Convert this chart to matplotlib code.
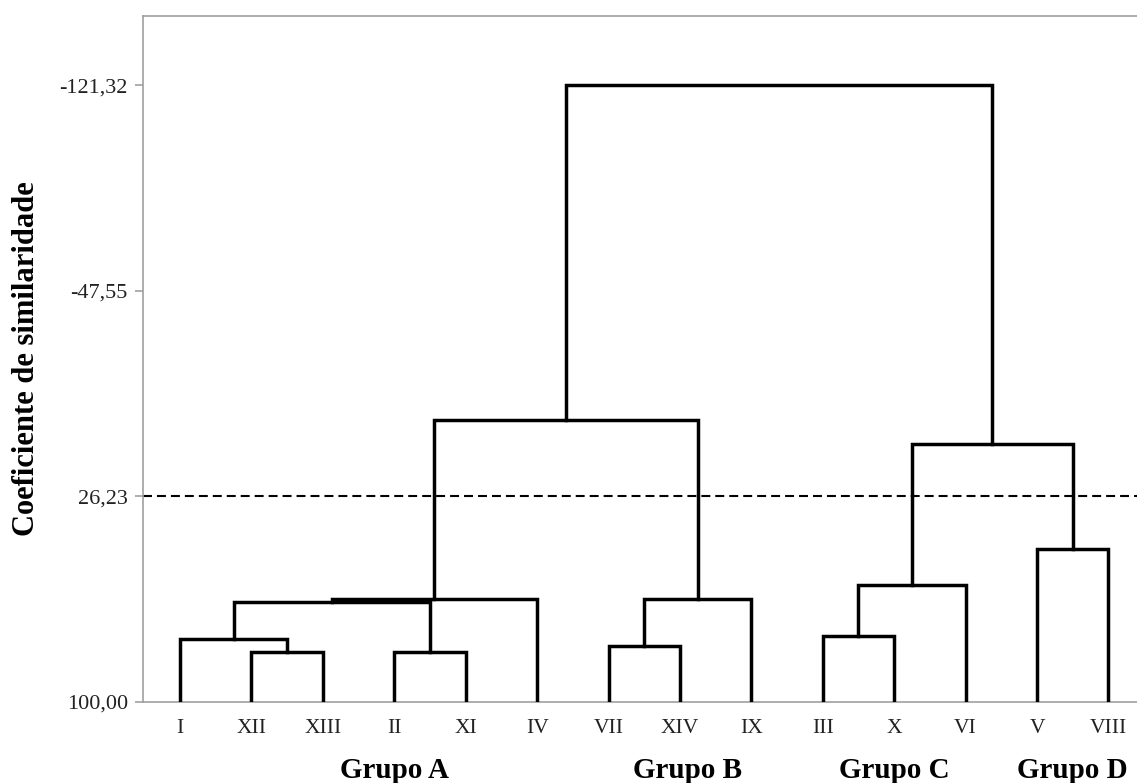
import matplotlib
matplotlib.use('Agg')
import matplotlib.pyplot as plt

plt.rcParams['font.family'] = ['Liberation Serif', 'DejaVu Serif']

# Leaf labels in dendrogram order
leaves = ['I', 'XII', 'XIII', 'II', 'XI', 'IV', 'VII', 'XIV', 'IX',
          'III', 'X', 'VI', 'V', 'VIII']

# Merge steps: node ids of the two children and the similarity level
# (leaves are 0..13, each merge creates the next id)
merge_left = [1, 0, 3, 15, 17, 6, 19, 18, 9, 22, 12, 23, 21]
merge_right = [2, 14, 4, 16, 5, 7, 8, 20, 10, 11, 13, 24, 25]
merge_height = [82.1, 77.4, 82.1, 64.2, 62.9, 79.8, 62.9, -1.0,
                76.2, 57.9, 45.1, 7.5, -121.32]

# Y axis ticks and cut line
ytick_values = [-121.32, -47.55, 26.23, 100.00]
cut_level = 26.23

# Group labels and their centre position along the leaves
groups = ['Grupo A', 'Grupo B', 'Grupo C', 'Grupo D']
group_pos = [3.0, 7.1, 10.0, 12.5]

fig = plt.figure(figsize=(11.37, 7.83), dpi=100)
ax = fig.add_axes([0.1258, 0.1034, 0.8742, 0.8762])

# node positions: x for leaves is their index, height 100 at the base
node_x = {i: float(i) for i in range(len(leaves))}
node_h = {i: 100.0 for i in range(len(leaves))}

next_id = len(leaves)
for a, b, h in zip(merge_left, merge_right, merge_height):
    xa, xb = node_x[a], node_x[b]
    ax.plot([xa, xa, xb, xb], [node_h[a], h, h, node_h[b]],
            color='black', lw=2.5, solid_joinstyle='miter', zorder=3)
    node_x[next_id] = (xa + xb) / 2
    node_h[next_id] = h
    next_id += 1

# dashed cut line
ax.axhline(cut_level, color='black', lw=1.5, dashes=(4.3, 2.4), zorder=2)

ax.set_xlim(-0.518, 13.40)
ax.set_ylim(100, -146.1)

ax.set_xticks(range(len(leaves)))
ax.set_xticklabels(leaves, fontsize=15.5)
ax.tick_params(axis='x', length=0, pad=12, colors='#222222')

ax.set_yticks(ytick_values)
ax.set_yticklabels([f'{v:.2f}'.replace('.', ',') for v in ytick_values],
                   fontsize=16)
ax.tick_params(axis='y', length=6, width=1.1, pad=5, color='#999999',
               labelcolor='#222222')

for side in ['left', 'top', 'bottom']:
    ax.spines[side].set_color('#a0a0a0')
    ax.spines[side].set_linewidth(1.2)
ax.spines['right'].set_visible(False)

ax.set_ylabel('Coeficiente de similaridade', fontsize=22, fontweight='bold')
ax.yaxis.set_label_coords(-0.103, 0.5)

for name, pos in zip(groups, group_pos):
    ax.text(pos, -0.111, name, transform=ax.get_xaxis_transform(),
            ha='center', va='baseline', fontsize=21, fontweight='bold')

fig.savefig('out.png', dpi=100)
